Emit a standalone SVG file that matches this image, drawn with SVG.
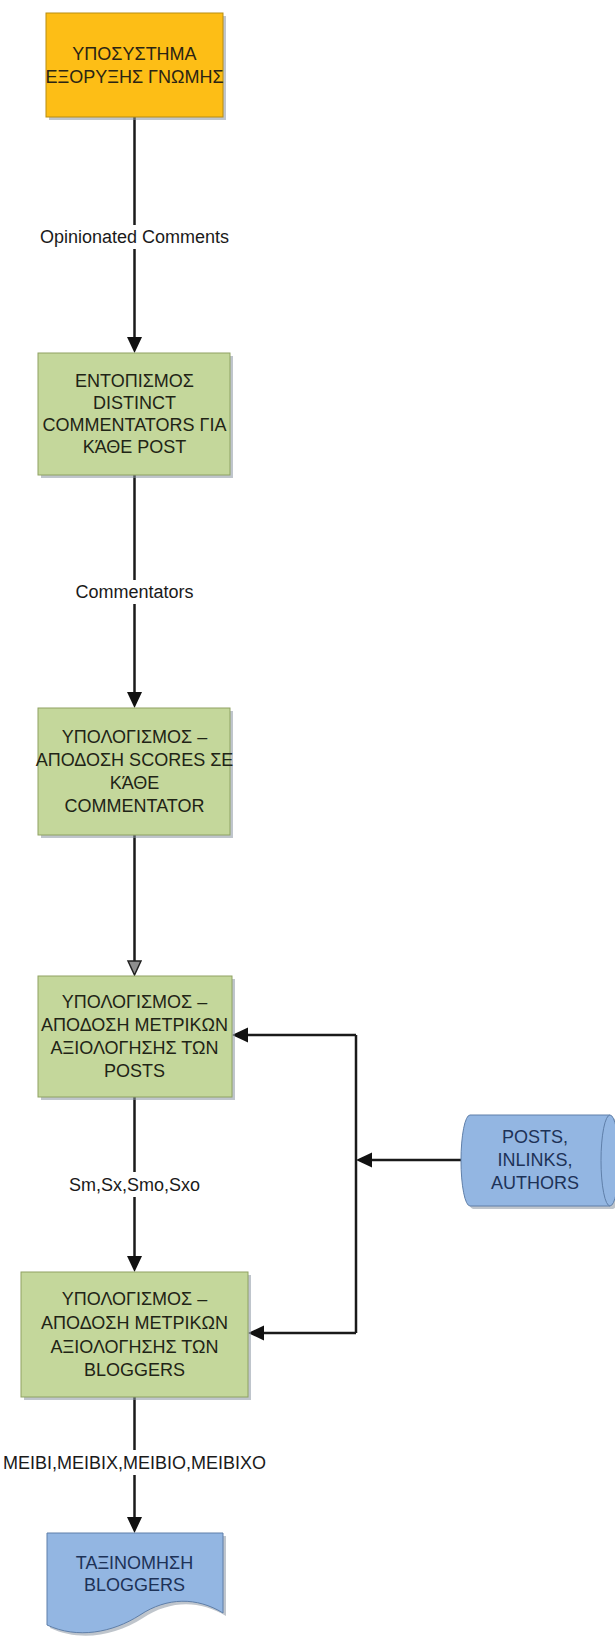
<svg xmlns="http://www.w3.org/2000/svg" width="615" height="1637" viewBox="0 0 615 1637">
  <style>
    text { font-family: "Liberation Sans", Arial, sans-serif; font-size: 18px; text-anchor: middle; dominant-baseline: central; }
    .shadow { fill: #8b96a3; opacity: 0.55; }
    .orange { fill: #fdbe16; stroke: #b98d10; stroke-width: 1; }
    .green { fill: #c4d79b; stroke: #8fa263; stroke-width: 1; }
    .blue { fill: #93b6e2; stroke: #5f7fa9; stroke-width: 1; }
    .t-dark { fill: #2a2414; }
    .t-green { fill: #1f2416; }
    .t-blue { fill: #1d3257; }
    .conn { fill: none; stroke: #1a1a1a; stroke-width: 2.5; }
    .lbl { fill: #1a1a1a; }
    .lblbg { fill: #ffffff; }
  </style>
  <defs>
    <marker id="arrow" markerUnits="userSpaceOnUse" markerWidth="17" markerHeight="16" refX="12" refY="7.5" orient="auto" viewBox="0 0 17 16">
      <path d="M0,0 L16,7.5 L0,15 Z" fill="#111111"/>
    </marker>
    <marker id="arrowOpen" markerUnits="userSpaceOnUse" markerWidth="17" markerHeight="16" refX="12" refY="7.5" orient="auto" viewBox="0 0 17 16">
      <path d="M1,1 L15,7.5 L1,14 Z" fill="#8e8e8e" stroke="#222222" stroke-width="1.5" stroke-linejoin="miter"/>
    </marker>
  </defs>

  <!-- connectors -->
  <g id="connectors">
    <path class="conn" d="M134.5,117 V349" marker-end="url(#arrow)"/>
    <path class="conn" d="M134.5,475 V704" marker-end="url(#arrow)"/>
    <path class="conn" d="M134.5,835 V972" marker-end="url(#arrowOpen)"/>
    <path class="conn" d="M134.5,1097 V1268" marker-end="url(#arrow)"/>
    <path class="conn" d="M134.5,1397 V1529" marker-end="url(#arrow)"/>
    <path class="conn" d="M461,1160 H360" marker-end="url(#arrow)"/>
    <path class="conn" d="M356,1035 V1333"/>
    <path class="conn" d="M356,1035 H236" marker-end="url(#arrow)"/>
    <path class="conn" d="M356,1333 H252" marker-end="url(#arrow)"/>

    <rect class="lblbg" x="34" y="225" width="201" height="24"/>
    <text class="lbl" x="134.5" y="237">Opinionated Comments</text>
    <rect class="lblbg" x="72" y="580" width="125" height="24"/>
    <text class="lbl" x="134.5" y="592">Commentators</text>
    <rect class="lblbg" x="66" y="1172" width="137" height="25"/>
    <text class="lbl" x="134.5" y="1185">Sm,Sx,Smo,Sxo</text>
    <rect class="lblbg" x="1" y="1450" width="268" height="25"/>
    <text class="lbl" x="134.5" y="1463">ΜΕΙΒΙ,ΜΕΙΒΙΧ,ΜΕΙΒΙΟ,ΜΕΙΒΙΧΟ</text>
  </g>

  <!-- opinion mining subsystem -->
  <g id="node-subsystem">
    <rect class="shadow" x="49" y="16" width="177" height="104"/>
    <rect class="orange" x="46" y="13" width="177" height="104"/>
    <text class="t-dark" x="134.5" y="54">ΥΠΟΣΥΣΤΗΜΑ</text>
    <text class="t-dark" x="134.5" y="77">ΕΞΟΡΥΞΗΣ ΓΝΩΜΗΣ</text>
  </g>

  <!-- distinct commentators per post -->
  <g id="node-commentators">
    <rect class="shadow" x="41" y="356" width="192" height="122"/>
    <rect class="green" x="38" y="353" width="192" height="122"/>
    <text class="t-green" x="134.5" y="381">ΕΝΤΟΠΙΣΜΟΣ</text>
    <text class="t-green" x="134.5" y="403">DISTINCT</text>
    <text class="t-green" x="134.5" y="425">COMMENTATORS ΓΙΑ</text>
    <text class="t-green" x="134.5" y="447">ΚΆΘΕ POST</text>
  </g>

  <!-- commentator scores -->
  <g id="node-scores">
    <rect class="shadow" x="41" y="711" width="192" height="127"/>
    <rect class="green" x="38" y="708" width="192" height="127"/>
    <text class="t-green" x="134.5" y="737">ΥΠΟΛΟΓΙΣΜΟΣ –</text>
    <text class="t-green" x="134.5" y="760">ΑΠΟΔΟΣΗ SCORES ΣΕ</text>
    <text class="t-green" x="134.5" y="783">ΚΆΘΕ</text>
    <text class="t-green" x="134.5" y="806">COMMENTATOR</text>
  </g>

  <!-- post metrics -->
  <g id="node-post-metrics">
    <rect class="shadow" x="41" y="979" width="194" height="121"/>
    <rect class="green" x="38" y="976" width="194" height="121"/>
    <text class="t-green" x="134.5" y="1002">ΥΠΟΛΟΓΙΣΜΟΣ –</text>
    <text class="t-green" x="134.5" y="1025">ΑΠΟΔΟΣΗ ΜΕΤΡΙΚΩΝ</text>
    <text class="t-green" x="134.5" y="1048">ΑΞΙΟΛΟΓΗΣΗΣ ΤΩΝ</text>
    <text class="t-green" x="134.5" y="1071">POSTS</text>
  </g>

  <!-- blogger metrics -->
  <g id="node-blogger-metrics">
    <rect class="shadow" x="24" y="1275" width="227" height="125"/>
    <rect class="green" x="21" y="1272" width="227" height="125"/>
    <text class="t-green" x="134.5" y="1299">ΥΠΟΛΟΓΙΣΜΟΣ –</text>
    <text class="t-green" x="134.5" y="1323">ΑΠΟΔΟΣΗ ΜΕΤΡΙΚΩΝ</text>
    <text class="t-green" x="134.5" y="1347">ΑΞΙΟΛΟΓΗΣΗΣ ΤΩΝ</text>
    <text class="t-green" x="134.5" y="1370">BLOGGERS</text>
  </g>

  <!-- stored data: posts, inlinks, authors -->
  <g id="node-storage">
    <path class="shadow" d="M473,1118 H613 A9,45.5 0 0 1 613,1209 H473 A9,45.5 0 0 1 473,1118 Z"/>
    <path class="blue" d="M470,1115 H610 A9,45.5 0 0 1 610,1206 H470 A9,45.5 0 0 1 470,1115 Z"/>
    <path class="blue" d="M610,1115 A9,45.5 0 0 0 610,1206" fill="none"/>
    <text class="t-blue" x="535" y="1137">POSTS,</text>
    <text class="t-blue" x="535" y="1160">INLINKS,</text>
    <text class="t-blue" x="535" y="1183">AUTHORS</text>
  </g>

  <!-- blogger ranking document -->
  <g id="node-ranking">
    <path class="shadow" d="M50,1536 H226 V1616 C200,1600 170,1600 143,1618 C115,1636 80,1642 50,1628 Z"/>
    <path class="blue" d="M47,1533 H223 V1613 C197,1597 167,1597 140,1615 C112,1633 77,1639 47,1625 Z"/>
    <text class="t-blue" x="134.5" y="1563">ΤΑΞΙΝΟΜΗΣΗ</text>
    <text class="t-blue" x="134.5" y="1585">BLOGGERS</text>
  </g>
</svg>
